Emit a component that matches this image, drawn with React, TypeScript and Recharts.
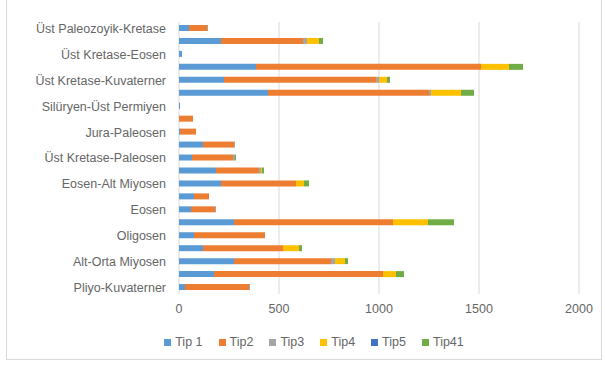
import { BarChart, Bar, XAxis, YAxis, CartesianGrid, Legend } from "recharts";

// categories top to bottom (every second label is hidden in the original)
const categories = [
  "Üst Paleozoyik-Kretase",
  "Kategori 2",
  "Üst Kretase-Eosen",
  "Kategori 4",
  "Üst Kretase-Kuvaterner",
  "Kategori 6",
  "Silüryen-Üst Permiyen",
  "Kategori 8",
  "Jura-Paleosen",
  "Kategori 10",
  "Üst Kretase-Paleosen",
  "Kategori 12",
  "Eosen-Alt Miyosen",
  "Kategori 14",
  "Eosen",
  "Kategori 16",
  "Oligosen",
  "Kategori 18",
  "Alt-Orta Miyosen",
  "Kategori 20",
  "Pliyo-Kuvaterner",
];

const tip1 = [50, 210, 15, 385, 225, 445, 5, 0, 5, 120, 65, 185, 210, 75, 60, 275, 75, 120, 275, 175, 30];
const tip2 = [90, 410, 0, 1125, 760, 805, 0, 70, 80, 155, 205, 215, 375, 75, 120, 795, 355, 400, 485, 845, 320];
const tip3 = [5, 20, 0, 0, 15, 10, 0, 0, 0, 5, 10, 10, 0, 0, 5, 0, 0, 0, 20, 0, 5];
const tip4 = [0, 60, 0, 140, 40, 150, 0, 0, 0, 0, 0, 5, 40, 0, 0, 175, 0, 80, 50, 65, 0];
const tip5 = [0, 0, 0, 0, 0, 0, 0, 0, 0, 0, 0, 0, 0, 0, 0, 0, 0, 0, 0, 0, 0];
const tip41 = [0, 20, 0, 70, 15, 65, 0, 0, 0, 0, 5, 10, 25, 0, 0, 130, 0, 15, 15, 40, 0];

const xTicks = [0, 500, 1000, 1500, 2000];

const series = [
  { key: "tip1", name: "Tip 1", color: "#5B9BD5" },
  { key: "tip2", name: "Tip2", color: "#ED7D31" },
  { key: "tip3", name: "Tip3", color: "#A5A5A5" },
  { key: "tip4", name: "Tip4", color: "#FFC000" },
  { key: "tip5", name: "Tip5", color: "#4472C4" },
  { key: "tip41", name: "Tip41", color: "#70AD47" },
];

const data = categories.map((name, i) => ({
  name,
  tip1: tip1[i],
  tip2: tip2[i],
  tip3: tip3[i],
  tip4: tip4[i],
  tip5: tip5[i],
  tip41: tip41[i],
}));

const font = "'Liberation Sans', Arial, sans-serif";
const textColor = "#666666";

function LegendRow() {
  return (
    <div
      style={{
        display: "flex",
        justifyContent: "center",
        paddingLeft: 58,
        fontFamily: font,
        fontSize: 12.5,
        color: textColor,
      }}
    >
      {series.map((s) => (
        <div key={s.key} style={{ display: "flex", alignItems: "center", marginRight: 16 }}>
          <span style={{ width: 7, height: 7, background: s.color, marginRight: 4, display: "inline-block" }} />
          <span>{s.name}</span>
        </div>
      ))}
    </div>
  );
}

export default function App() {
  return (
    <div
      style={{
        position: "absolute",
        left: 6,
        top: -4,
        width: 594,
        height: 362,
        border: "1px solid #d9d9d9",
        background: "#fff",
      }}
    >
      <BarChart
        width={594}
        height={362}
        data={data}
        layout="vertical"
        margin={{ top: 25, right: 22, bottom: 10, left: 0 }}
        barSize={6}
      >
        <CartesianGrid horizontal={false} stroke="#d9d9d9" />
        <XAxis
          type="number"
          domain={[0, 2000]}
          ticks={xTicks}
          axisLine={false}
          tickLine={false}
          tickMargin={4}
          height={41}
          tick={{ fill: textColor, fontSize: 12.5, fontFamily: font }}
        />
        <YAxis
          type="category"
          dataKey="name"
          width={172}
          interval={1}
          axisLine={false}
          tickLine={false}
          tickMargin={7}
          tick={{ fill: textColor, fontSize: 12.5, fontFamily: font }}
        />
        <Legend verticalAlign="bottom" content={() => <LegendRow />} />
        {series.map((s) => (
          <Bar
            key={s.key}
            dataKey={s.key}
            name={s.name}
            stackId="a"
            fill={s.color}
            isAnimationActive={false}
          />
        ))}
      </BarChart>
    </div>
  );
}
